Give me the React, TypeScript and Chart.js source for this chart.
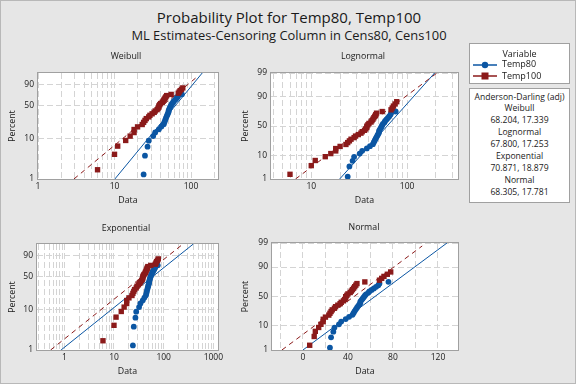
import React, { useEffect, useRef } from "react";
import { Chart, registerables } from "chart.js";
Chart.register(...registerables);

// ---------------- data ----------------
const temp80Times = [24, 25, 27, 28, 32, 34, 38, 41, 44, 45, 46, 47, 48, 49, 50, 51, 51, 52, 53, 54, 55, 56, 58, 59, 61, 63, 65, 67, 68, 76];
const temp80Percents = [1.3, 3.8, 6.3, 8.8, 11.3, 13.8, 16.3, 18.8, 21.3, 23.8, 26.3, 28.8, 31.3, 33.8, 36.3, 38.8, 41.3, 43.8, 46.3, 48.8, 51.3, 53.8, 56.3, 58.8, 61.3, 63.8, 66.3, 68.8, 71.3, 73.8];
const temp100Times = [6, 10, 11, 14, 16, 18, 18, 20, 23, 24, 25, 26, 28, 29, 31, 33, 34, 36, 37, 38, 38, 39, 40, 42, 43, 44, 45, 46, 47, 48, 55, 68, 70, 72, 75, 78];
const temp100Percents = [1.7, 4.1, 6.5, 8.9, 11.3, 13.7, 16.1, 18.5, 20.9, 23.3, 25.7, 28.1, 30.5, 32.9, 35.3, 37.7, 40.1, 42.5, 44.9, 47.3, 49.7, 52.1, 54.5, 56.9, 59.3, 61.7, 64.1, 66.5, 68.9, 71.3, 73.7, 76.1, 78.5, 80.9, 83.3, 85.7];

// fitted lines (two end points each: time, percent)
const weibullFit80Times = [10.1, 140];
const weibullFit80Percents = [1, 99];
const weibullFit100Times = [2.95, 120];
const weibullFit100Percents = [1, 97.5];
const lognormalFit80Times = [19.8, 194];
const lognormalFit80Percents = [1, 99];
const lognormalFit100Times = [6.85, 205];
const lognormalFit100Percents = [1, 99];
const exponentialFit80Times = [0.86, 395];
const exponentialFit80Percents = [1, 99];
const exponentialFit100Times = [0.53, 245];
const exponentialFit100Percents = [1, 99];
const normalFit80Times = [0, 128];
const normalFit80Percents = [1, 99];
const normalFit100Times = [-18.7, 106];
const normalFit100Percents = [1, 98.6];

// tick labels
const percentTicksWeibull = [1, 10, 50, 90];
const percentTicksNormal = [1, 10, 50, 90, 99];
const weibullDataTicks = [1, 10, 100];
const lognormalDataTicks = [10, 100];
const exponentialDataTicks = [1, 10, 100, 1000];
const normalDataTicks = [0, 40, 80, 120];
const normalGridTicks = [-20, 0, 20, 40, 60, 80, 100, 120];

const seriesNames = ["Temp80", "Temp100"];
const adDistributions = ["Weibull", "Lognormal", "Exponential", "Normal"];
const adValues = ["68.204, 17.339", "67.800, 17.253", "70.871, 18.879", "68.305, 17.781"];

// ---------------- styling ----------------
const BLUE = "#0b56a3";
const RED = "#8b1a1a";
const FONT = "'Open Sans', 'Noto Sans', sans-serif";
const TEXT = "#1a1a1a";
const BG = "#e6e6e6";

// ---------------- transforms ----------------
function normInv(p: number): number {
  const a = [-3.969683028665376e1, 2.209460984245205e2, -2.759285104469687e2, 1.38357751867269e2, -3.066479806614716e1, 2.506628277459239];
  const b = [-5.447609879822406e1, 1.615858368580409e2, -1.556989798598866e2, 6.680131188771972e1, -1.328068155288572e1];
  const c = [-7.784894002430293e-3, -3.223964580411365e-1, -2.400758277161838, -2.549732539343734, 4.374664141464968, 2.938163982698783];
  const d = [7.784695709041462e-3, 3.224671290700398e-1, 2.445134137142996, 3.754408661907416];
  const pl = 0.02425;
  let q: number, r: number;
  if (p < pl) {
    q = Math.sqrt(-2 * Math.log(p));
    return (((((c[0] * q + c[1]) * q + c[2]) * q + c[3]) * q + c[4]) * q + c[5]) / ((((d[0] * q + d[1]) * q + d[2]) * q + d[3]) * q + 1);
  }
  if (p <= 1 - pl) {
    q = p - 0.5;
    r = q * q;
    return ((((((a[0] * r + a[1]) * r + a[2]) * r + a[3]) * r + a[4]) * r + a[5]) * q) / (((((b[0] * r + b[1]) * r + b[2]) * r + b[3]) * r + b[4]) * r + 1);
  }
  q = Math.sqrt(-2 * Math.log(1 - p));
  return -(((((c[0] * q + c[1]) * q + c[2]) * q + c[3]) * q + c[4]) * q + c[5]) / ((((d[0] * q + d[1]) * q + d[2]) * q + d[3]) * q + 1);
}
const weibullY = (pct: number) => Math.log(-Math.log(1 - pct / 100));
const normalY = (pct: number) => normInv(pct / 100);

function logGrid(min: number, max: number): number[] {
  const out: number[] = [];
  for (let e = Math.floor(Math.log10(min)); e <= Math.ceil(Math.log10(max)); e++) {
    for (let m = 1; m <= 9; m++) {
      const v = m * Math.pow(10, e);
      if (v >= min * 0.999 && v <= max * 1.001) out.push(v);
    }
  }
  return out;
}

type PanelCfg = {
  title: string;
  xType: "logarithmic" | "linear";
  xMin: number;
  xMax: number;
  xGrid: number[];
  xLabels: number[];
  yT: (p: number) => number;
  yLabels: number[];
  fit80: [number[], number[]];
  fit100: [number[], number[]];
  canvas: { left: number; top: number; width: number; height: number };
  yW: number;
  padTop: number;
  padRight: number;
  xH: number;
  xTitlePb: number;
  titlePos: [number, number];
};

const panels: PanelCfg[] = [
  {
    title: "Weibull", xType: "logarithmic", xMin: 1, xMax: 225, xGrid: logGrid(1, 225), xLabels: weibullDataTicks,
    yT: weibullY, yLabels: percentTicksWeibull,
    fit80: [weibullFit80Times, weibullFit80Percents], fit100: [weibullFit100Times, weibullFit100Percents],
    canvas: { left: 0, top: 45, width: 250, height: 175 }, yW: 37, padTop: 27, padRight: 33, xH: 42, xTitlePb: 14.9,
    titlePos: [125, 55],
  },
  {
    title: "Lognormal", xType: "logarithmic", xMin: 3.8, xMax: 340, xGrid: logGrid(3.8, 340), xLabels: lognormalDataTicks,
    yT: normalY, yLabels: percentTicksNormal,
    fit80: [lognormalFit80Times, lognormalFit80Percents], fit100: [lognormalFit100Times, lognormalFit100Percents],
    canvas: { left: 233, top: 45, width: 252, height: 175 }, yW: 37, padTop: 27, padRight: 28, xH: 42, xTitlePb: 14.9,
    titlePos: [362, 55],
  },
  {
    title: "Exponential", xType: "logarithmic", xMin: 0.282, xMax: 1240, xGrid: logGrid(0.282, 1240), xLabels: exponentialDataTicks,
    yT: weibullY, yLabels: percentTicksWeibull,
    fit80: [exponentialFit80Times, exponentialFit80Percents], fit100: [exponentialFit100Times, exponentialFit100Percents],
    canvas: { left: 0, top: 215, width: 250, height: 169 }, yW: 36, padTop: 28, padRight: 33, xH: 35, xTitlePb: 7.9,
    titlePos: [125, 227],
  },
  {
    title: "Normal", xType: "linear", xMin: -27.5, xMax: 137.8, xGrid: normalGridTicks, xLabels: normalDataTicks,
    yT: normalY, yLabels: percentTicksNormal,
    fit80: [normalFit80Times, normalFit80Percents], fit100: [normalFit100Times, normalFit100Percents],
    canvas: { left: 233, top: 215, width: 252, height: 169 }, yW: 38, padTop: 27, padRight: 28, xH: 35, xTitlePb: 7.9,
    titlePos: [363, 226],
  },
];

const framePlugin = {
  id: "frame",
  beforeDraw(chart: any) {
    const { ctx, chartArea: a } = chart;
    ctx.save();
    ctx.fillStyle = "#ffffff";
    ctx.fillRect(a.left, a.top, a.right - a.left, a.bottom - a.top);
    ctx.restore();
  },
  afterDraw(chart: any) {
    const { ctx, chartArea: a } = chart;
    ctx.save();
    ctx.strokeStyle = "#a0a0a0";
    ctx.lineWidth = 1;
    ctx.strokeRect(a.left - 0.5, a.top - 0.5, a.right - a.left + 1, a.bottom - a.top + 1);
    ctx.restore();
  },
};

function isLabel(v: number, labels: number[]) {
  return labels.some((l) => Math.abs(l - v) < 1e-6 * Math.max(1, Math.abs(l)));
}

function Panel({ cfg }: { cfg: PanelCfg }) {
  const ref = useRef<HTMLCanvasElement | null>(null);
  useEffect(() => {
    if (!ref.current) return;
    const T = cfg.yT;
    const pts = (xs: number[], ps: number[]) => xs.map((x, i) => ({ x, y: T(ps[i]) }));
    const tickFont = { family: FONT, size: 8.5 };
    const titleFont = { family: FONT, size: 8.8 };
    const chart = new Chart(ref.current, {
      type: "scatter",
      data: {
        datasets: [
          { label: "fit80", data: pts(cfg.fit80[0], cfg.fit80[1]), showLine: true, borderColor: BLUE, borderWidth: 1, pointRadius: 0, order: 3 } as any,
          { label: "fit100", data: pts(cfg.fit100[0], cfg.fit100[1]), showLine: true, borderColor: RED, borderWidth: 1, borderDash: [5, 4], pointRadius: 0, order: 2 } as any,
          { label: seriesNames[0], data: pts(temp80Times, temp80Percents), pointStyle: "circle", pointRadius: 2.9, backgroundColor: BLUE, borderColor: BLUE, borderWidth: 0, order: 1 } as any,
          { label: seriesNames[1], data: pts(temp100Times, temp100Percents), pointStyle: "rect", pointRadius: 3.8, backgroundColor: RED, borderColor: RED, borderWidth: 0, order: 0 } as any,
        ],
      },
      options: {
        responsive: false,
        animation: false,
        devicePixelRatio: 1,
        layout: { padding: { left: 0, top: cfg.padTop, right: cfg.padRight, bottom: 0 } },
        plugins: { legend: { display: false }, tooltip: { enabled: false }, title: { display: false } },
        scales: {
          x: {
            type: cfg.xType,
            min: cfg.xMin,
            max: cfg.xMax,
            afterBuildTicks: (s: any) => {
              s.ticks = cfg.xGrid.map((v) => ({ value: v }));
            },
            afterFit: (s: any) => {
              s.height = cfg.xH;
            },
            ticks: {
              autoSkip: false,
              maxRotation: 0,
              padding: 2,
              color: TEXT,
              font: tickFont,
              callback: (v: any) => (isLabel(Number(v), cfg.xLabels) ? String(Number(v)) : ""),
            },
            grid: { color: "#d4d4d4", lineWidth: 1, drawTicks: false },
            border: { display: false, dash: [6, 3] },
            title: { display: true, text: "Data", color: TEXT, font: titleFont, padding: { top: 0, bottom: cfg.xTitlePb } },
          } as any,
          y: {
            type: "linear",
            min: T(1),
            max: T(99),
            afterBuildTicks: (s: any) => {
              s.ticks = cfg.yLabels.map((p) => ({ value: T(p) }));
            },
            afterFit: (s: any) => {
              s.width = cfg.yW;
            },
            ticks: {
              autoSkip: false,
              padding: 4,
              color: TEXT,
              font: tickFont,
              callback: (_v: any, i: number) => String(cfg.yLabels[i]),
            },
            grid: { color: "#d4d4d4", lineWidth: 1, drawTicks: false },
            border: { display: false, dash: [6, 3] },
            title: { display: true, text: "Percent", color: TEXT, font: titleFont, padding: { top: 6.4, bottom: 0 } },
          } as any,
        },
      },
      plugins: [framePlugin],
    });
    return () => chart.destroy();
  }, [cfg]);
  const c = cfg.canvas;
  return (
    <>
      <canvas
        ref={ref}
        width={c.width}
        height={c.height}
        style={{ position: "absolute", left: c.left, top: c.top, width: c.width, height: c.height }}
      />
      <div
        style={{
          position: "absolute",
          left: cfg.titlePos[0] - 70,
          top: cfg.titlePos[1] - 8,
          width: 140,
          height: 16,
          lineHeight: "16px",
          textAlign: "center",
          fontFamily: FONT,
          fontSize: 8.8,
          color: TEXT,
        }}
      >
        {cfg.title}
      </div>
    </>
  );
}

function LegendSymbol({ color, shape }: { color: string; shape: "circle" | "rect" }) {
  return (
    <svg width={26} height={10} style={{ position: "absolute", left: 3, top: 0 }}>
      <line x1={0} y1={5} x2={24} y2={5} stroke={color} strokeWidth={1.5} />
      {shape === "circle" ? <circle cx={12} cy={5} r={3.2} fill={color} /> : <rect x={8.5} y={1.5} width={7} height={7} fill={color} />}
    </svg>
  );
}

export default function App() {
  const textStyle: React.CSSProperties = { fontFamily: FONT, color: TEXT };
  return (
    <div
      style={{
        position: "absolute",
        left: 0,
        top: 0,
        width: 576,
        height: 384,
        background: BG,
        overflow: "hidden",
        boxSizing: "border-box",
        border: "1px solid #b8b8b8",
      }}
    >
      <div style={{ ...textStyle, position: "absolute", left: 0, top: 6, width: 576, textAlign: "center", fontSize: 15, lineHeight: "20px" }}>
        Probability Plot for Temp80, Temp100
      </div>
      <div style={{ ...textStyle, position: "absolute", left: 0, top: 26, width: 576, textAlign: "center", fontSize: 12.9, lineHeight: "16px" }}>
        ML Estimates-Censoring Column in Cens80, Cens100
      </div>
      {panels.map((p) => (
        <Panel key={p.title} cfg={p} />
      ))}
      {/* legend: variables */}
      <div
        style={{
          ...textStyle,
          position: "absolute",
          left: 468,
          top: 42,
          width: 101,
          height: 41,
          background: "#fff",
          border: "1px solid #a0a0a0",
          boxSizing: "border-box",
          fontSize: 9,
        }}
      >
        <div style={{ position: "absolute", left: 0, top: 3, width: "100%", textAlign: "center", lineHeight: "13px" }}>Variable</div>
        {seriesNames.map((n, i) => (
          <div key={n} style={{ position: "absolute", left: 0, top: 15.5 + i * 11.5, width: "100%", height: 10, lineHeight: "10px" }}>
            <LegendSymbol color={i === 0 ? BLUE : RED} shape={i === 0 ? "circle" : "rect"} />
            <span style={{ position: "absolute", left: 32, top: -0.5, whiteSpace: "nowrap" }}>{n}</span>
          </div>
        ))}
      </div>
      {/* legend: Anderson-Darling */}
      <div
        style={{
          ...textStyle,
          position: "absolute",
          left: 468,
          top: 87,
          width: 101,
          height: 115,
          background: "#fff",
          border: "1px solid #a0a0a0",
          boxSizing: "border-box",
          fontSize: 8.6,
          textAlign: "center",
          lineHeight: "11.9px",
          paddingTop: 2.5,
          whiteSpace: "nowrap",
        }}
      >
        <div>Anderson-Darling (adj)</div>
        {adDistributions.map((d, i) => (
          <React.Fragment key={d}>
            <div>{d}</div>
            <div>{adValues[i]}</div>
          </React.Fragment>
        ))}
      </div>
    </div>
  );
}
